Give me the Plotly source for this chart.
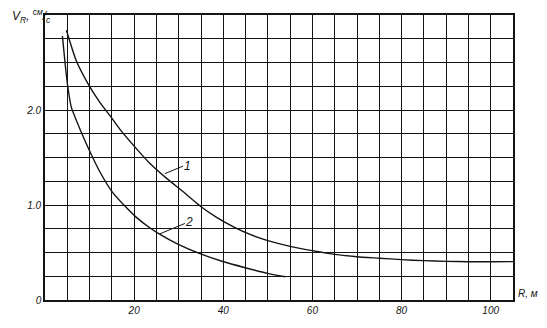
import plotly.graph_objects as go

# ---- data ----
r_curve1 = [4.8, 7.0, 9.6, 12.3, 14.9, 17.1, 20.0, 23.5, 27.3, 31.0, 34.8, 38.5, 42.3, 46.0,
            50.0, 55.0, 60.0, 65.0, 70.0, 75.0, 80.0, 85.0, 90.0, 95.0, 100.0, 105.0]
v_curve1 = [2.84, 2.52, 2.28, 2.08, 1.92, 1.78, 1.62, 1.44, 1.28, 1.14, 0.99, 0.87, 0.77, 0.69,
            0.625, 0.565, 0.52, 0.48, 0.455, 0.44, 0.425, 0.414, 0.407, 0.403, 0.402, 0.404]

r_curve2 = [3.9, 4.6, 5.1, 5.9, 8.1, 9.6, 12.3, 15.2, 18.3, 20.5, 23.5, 25.8, 29.9, 34.9,
            39.9, 44.9, 49.9, 53.9]
v_curve2 = [2.78, 2.45, 2.25, 2.03, 1.77, 1.61, 1.35, 1.13, 0.97, 0.87, 0.76, 0.69, 0.585, 0.485,
            0.405, 0.34, 0.28, 0.245]

x_label_vals = [20, 40, 60, 80, 100]
x_label_text = ["20", "40", "60", "80", "100"]
y_label_vals = [0, 1.0, 2.0]
y_label_text = ["0", "1.0", "2.0"]
x_grid_step = 5
y_grid_step = 0.25

curve_names = ["1", "2"]
# label anchors: text position, leader start (on curve), leader end
label_pos = {"1": ((31.95, 1.413), (26.9, 1.33), (31.0, 1.41)),
             "2": ((32.3, 0.816), (25.75, 0.696), (31.4, 0.806))}

INK = "#141414"
FONT = "Liberation Sans, DejaVu Sans, sans-serif"

fig = go.Figure()
for xs, ys in [(r_curve1, v_curve1), (r_curve2, v_curve2)]:
    fig.add_trace(go.Scatter(x=xs, y=ys, mode="lines",
                             line=dict(color=INK, width=1.4, shape="spline", smoothing=0.5),
                             showlegend=False, hoverinfo="skip"))

for name in curve_names:
    (tx, ty), (lx0, ly0), (lx1, ly1) = label_pos[name]
    fig.add_shape(type="line", x0=lx0, y0=ly0, x1=lx1, y1=ly1, xref="x", yref="y",
                  line=dict(color=INK, width=1))
    fig.add_annotation(x=tx, y=ty, xref="x", yref="y", text=name, showarrow=False,
                       font=dict(family=FONT, size=12, color=INK, style="italic"))

fig.add_annotation(x=-0.074, y=1.035, xref="paper", yref="paper", xanchor="left", yanchor="top",
                   text="V<sub>R</sub>, <sup>см</sup>/<sub>с</sub>", showarrow=False,
                   font=dict(family=FONT, size=12, color=INK, style="italic"))
fig.add_annotation(x=1.006, y=-0.005, xref="paper", yref="paper", xanchor="left", yanchor="bottom",
                   text="R, м", showarrow=False,
                   font=dict(family=FONT, size=10, color=INK, style="italic"))

axis_common = dict(showgrid=True, gridcolor=INK, gridwidth=1.3, showline=True, linecolor=INK,
                   linewidth=1.6, mirror=True, zeroline=False, ticks="",
                   tickfont=dict(family=FONT, size=10, color=INK, style="italic"))
fig.update_xaxes(range=[0, 105], tickmode="array", tickvals=x_label_vals, ticktext=x_label_text,
                 minor=dict(tick0=0, dtick=x_grid_step, showgrid=True, gridcolor=INK,
                            gridwidth=1.3, ticks=""),
                 **axis_common)
fig.update_yaxes(range=[0, 3.0], tickmode="array", tickvals=y_label_vals, ticktext=y_label_text,
                 minor=dict(tick0=0, dtick=y_grid_step, showgrid=True, gridcolor=INK,
                            gridwidth=1.3, ticks=""),
                 **axis_common)

fig.update_layout(width=547, height=328, margin=dict(l=45, r=34, t=15, b=20),
                  plot_bgcolor="white", paper_bgcolor="white")

fig.write_html("out.html")
